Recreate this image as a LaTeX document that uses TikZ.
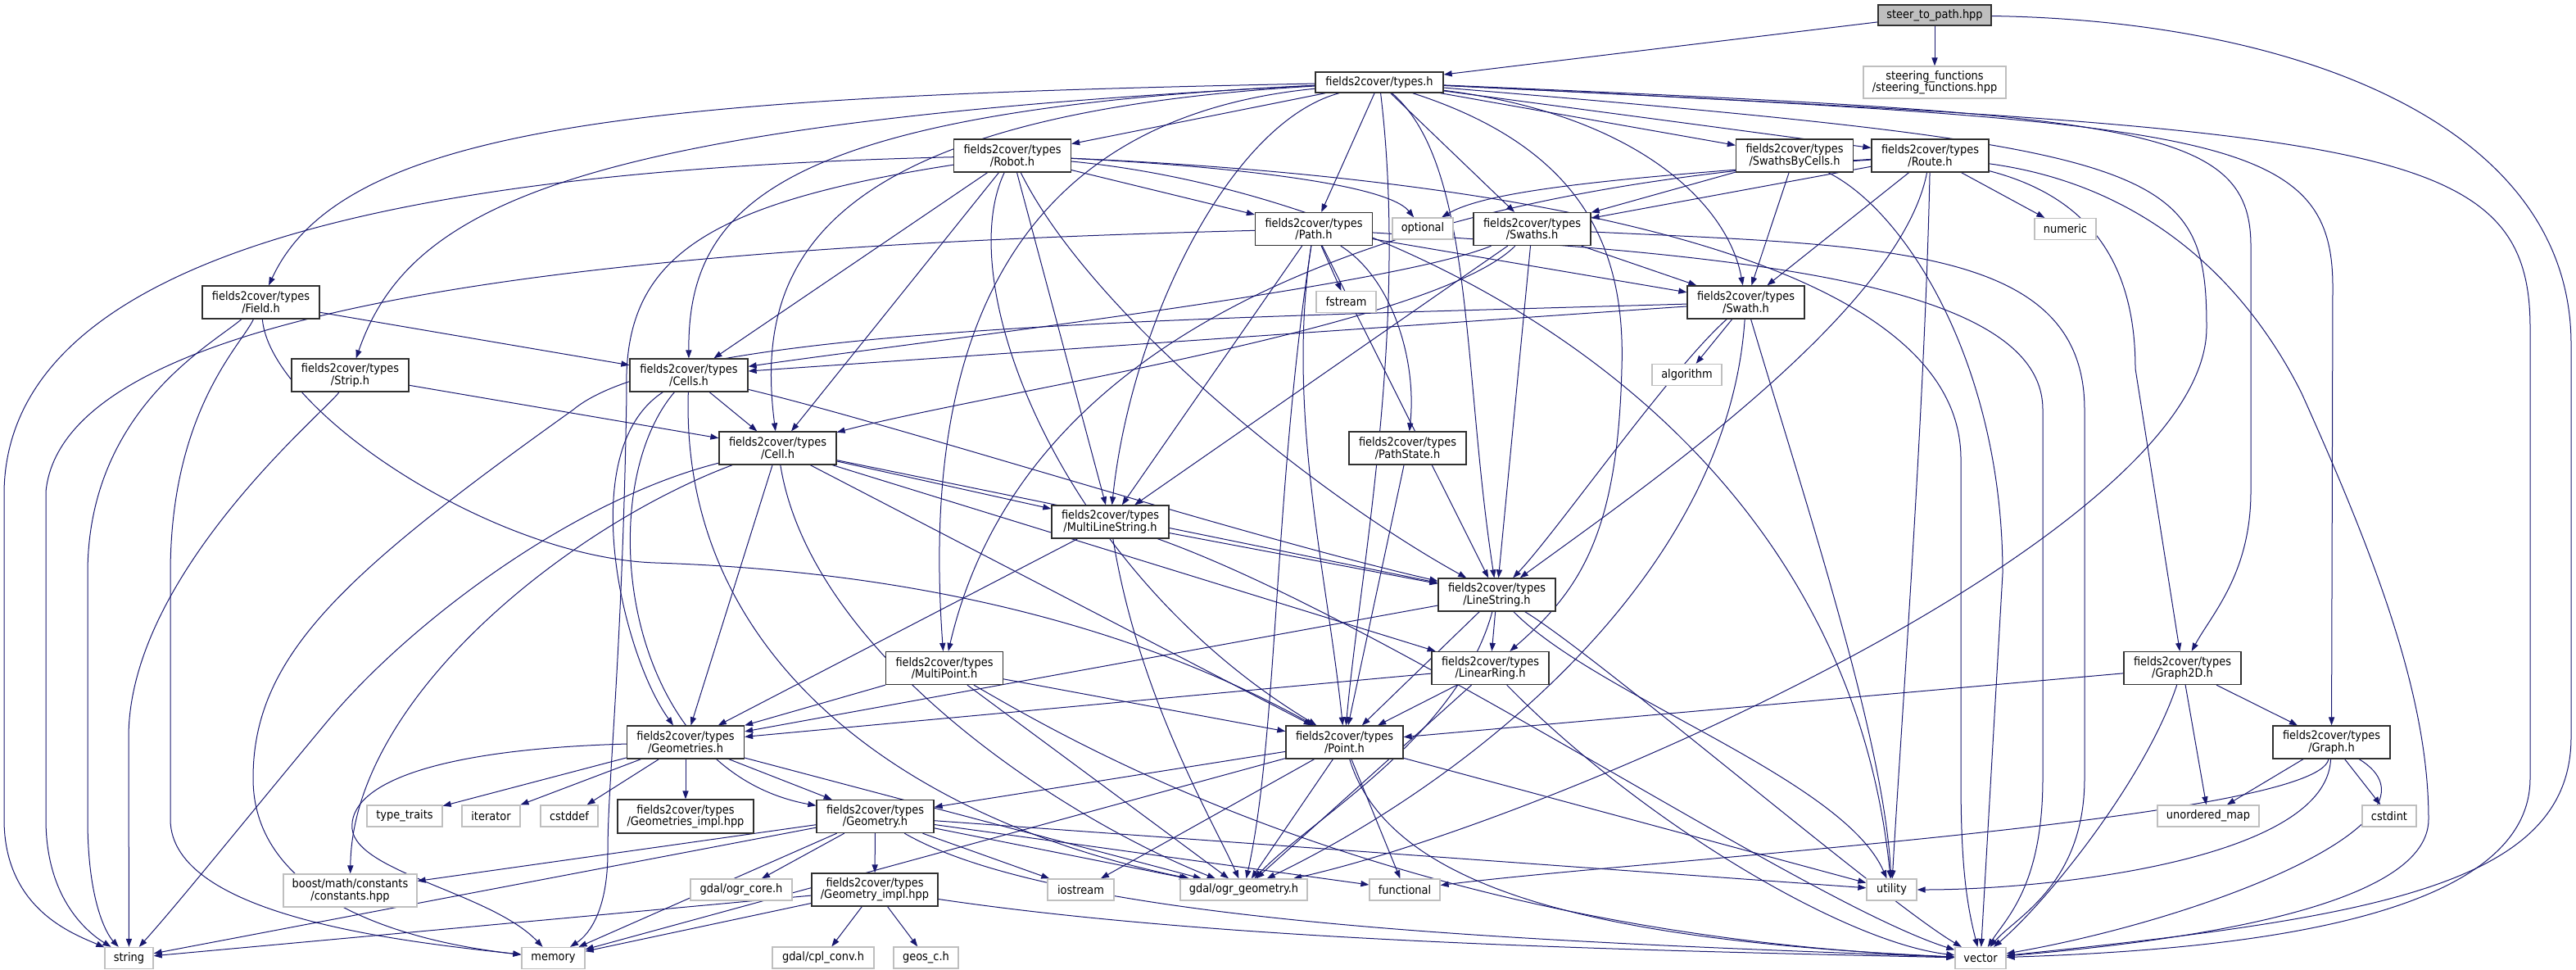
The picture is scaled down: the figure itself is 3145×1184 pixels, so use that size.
\documentclass[tikz,border=0pt]{standalone}
\usepackage{fontspec}
\setmainfont{DejaVu Sans Condensed}
\usetikzlibrary{arrows.meta,backgrounds}
\definecolor{eblue}{RGB}{25,25,112}
\definecolor{sysgray}{RGB}{191,191,191}
\definecolor{nodeborder}{RGB}{48,48,48}
\begin{document}
\begin{tikzpicture}[x=0.5pt,y=-0.5pt,
  nb/.style={draw=nodeborder,line width=0.65pt,fill=white,inner sep=0pt,align=center,minimum width=71.5pt,minimum height=20pt,font=\fontsize{7.2}{7.2}\selectfont},
  sb/.style={draw=sysgray,line width=0.65pt,fill=white,inner sep=0pt,align=center,minimum height=13pt,font=\fontsize{7.2}{7.2}\selectfont},
  dep/.style={draw=eblue,line width=0.5pt,-{Triangle[length=5pt,width=3.6pt]}},
]
\path[use as bounding box] (0,0) rectangle (3145,1184);
% nodes
\node[nb,fill=sysgray,minimum width=69pt,minimum height=12.5pt] (steer) at (2362,18.5) {steer\_to\_path.hpp};
\node[sb,minimum width=87pt,minimum height=19.5pt] (sfun) at (2362,100.5) {steering\_functions\\/steering\_functions.hpp};
\node[nb,minimum width=78pt,minimum height=12.5pt] (types) at (1684,100.5) {fields2cover/types.h};
\node[nb] (robot) at (1236,190) {fields2cover/types\\/Robot.h};
\node[nb] (sbc) at (2191,190) {fields2cover/types\\/SwathsByCells.h};
\node[nb] (route) at (2356.5,190) {fields2cover/types\\/Route.h};
\node[nb] (path) at (1604,279.5) {fields2cover/types\\/Path.h};
\node[sb,minimum width=37pt] (optional) at (1737,279) {optional};
\node[nb] (swaths) at (1870.5,279.5) {fields2cover/types\\/Swaths.h};
\node[sb,minimum width=37.5pt] (numeric) at (2521.5,279.5) {numeric};
\node[nb] (field) at (318.5,369) {fields2cover/types\\/Field.h};
\node[sb,minimum width=36.5pt] (fstream) at (1643.5,368.5) {fstream};
\node[nb] (swath) at (2131.5,369) {fields2cover/types\\/Swath.h};
\node[nb] (strip) at (427.5,458) {fields2cover/types\\/Strip.h};
\node[nb,minimum width=72pt] (cells) at (841,458) {fields2cover/types\\/Cells.h};
\node[sb,minimum width=42.5pt] (algorithm) at (2059.5,457.5) {algorithm};
\node[nb] (cell) at (949.5,547) {fields2cover/types\\/Cell.h};
\node[nb] (pstate) at (1718.5,547) {fields2cover/types\\/PathState.h};
\node[nb] (mls) at (1355.5,637) {fields2cover/types\\/MultiLineString.h};
\node[nb] (ls) at (1827.5,726) {fields2cover/types\\/LineString.h};
\node[nb] (mpoint) at (1153,815.5) {fields2cover/types\\/MultiPoint.h};
\node[nb] (lring) at (1819.5,815.5) {fields2cover/types\\/LinearRing.h};
\node[nb] (g2d) at (2664.5,815.5) {fields2cover/types\\/Graph2D.h};
\node[nb] (geoms) at (837,906) {fields2cover/types\\/Geometries.h};
\node[nb] (point) at (1641.5,906) {fields2cover/types\\/Point.h};
\node[nb] (graph) at (2846.5,906) {fields2cover/types\\/Graph.h};
\node[sb,minimum width=46pt] (ttraits) at (494,996) {type\_traits};
\node[sb,minimum width=35.5pt] (iter) at (599.5,996) {iterator};
\node[sb,minimum width=35pt] (cstddef) at (695,996) {cstddef};
\node[nb,minimum width=83pt,minimum height=20.5pt] (gimpl) at (837,996.5) {fields2cover/types\\/Geometries\_impl.hpp};
\node[nb] (geom) at (1068.5,996.5) {fields2cover/types\\/Geometry.h};
\node[sb,minimum width=62pt] (umap) at (2696,996) {unordered\_map};
\node[sb,minimum width=33pt] (cstdint) at (2917,996) {cstdint};
\node[sb,minimum width=81.5pt,minimum height=20pt] (boost) at (427.5,1087) {boost/math/constants\\/constants.hpp};
\node[sb,minimum width=62pt] (ogrcore) at (905,1086) {gdal/ogr\_core.h};
\node[nb,minimum width=77pt] (gimplh) at (1068,1086) {fields2cover/types\\/Geometry\_impl.hpp};
\node[sb,minimum width=40.5pt] (iostream) at (1319.5,1086) {iostream};
\node[sb,minimum width=77.5pt] (ogrgeom) at (1518.5,1086) {gdal/ogr\_geometry.h};
\node[sb,minimum width=43pt] (functional) at (1715,1086) {functional};
\node[sb,minimum width=30.5pt] (utility) at (2309.5,1086) {utility};
\node[sb,minimum width=29.5pt] (string) at (157.5,1169.5) {string};
\node[sb,minimum width=38.5pt] (memory) at (675.5,1169.5) {memory};
\node[sb,minimum width=62pt] (cplconv) at (1005,1169) {gdal/cpl\_conv.h};
\node[sb,minimum width=39.5pt] (geosc) at (1130.5,1169) {geos\_c.h};
\node[sb,minimum width=31pt] (vector) at (2418,1169.5) {vector};
% edges
\begin{pgfonlayer}{background}
% steer_to_path
\draw[dep] (steer) -- (types);
\draw[dep] (steer) -- (sfun);
\draw[dep] (steer) .. controls (2800,25) and (3139,150) .. (3139,420) -- (3139,900) .. controls (3139,1080) and (2900,1120) .. (vector);
% types.h
\draw[dep] (types) .. controls (800,118) and (420,150) .. (field);
\draw[dep] (types) .. controls (700,150) and (500,250) .. (strip);
\draw[dep] (types) .. controls (950,135) and (840,250) .. (cells);
\draw[dep] (types) .. controls (1000,140) and (920,320) .. (cell);
\draw[dep] (types) -- (robot);
\draw[dep] (types) -- (path);
\draw[dep] (types) -- (swaths);
\draw[dep] (types) .. controls (2000,140) and (2110,250) .. (swath);
\draw[dep] (types) -- (sbc);
\draw[dep] (types) -- (route);
\draw[dep] (types) .. controls (1500,150) and (1380,400) .. (mls);
\draw[dep] (types) .. controls (1800,200) and (1785,450) .. (ls);
\draw[dep] (types) .. controls (1180,150) and (1130,500) .. (mpoint);
\draw[dep] (types) .. controls (1930,180) and (1985,300) .. (1980,450) .. controls (1975,650) and (1930,720) .. (lring);
\draw[dep] (types) .. controls (1720,400) and (1660,700) .. (point);
\draw[dep] (types) .. controls (2600,140) and (2748,150) .. (2748,300) -- (2748,600) .. controls (2748,700) and (2700,750) .. (g2d);
\draw[dep] (types) .. controls (2700,150) and (2848,160) .. (2848,350) -- (graph);
\draw[dep] (types) .. controls (2900,160) and (3089,170) .. (3089,400) -- (3089,950) .. controls (3089,1130) and (2700,1160) .. (vector);
\draw[dep] (types) .. controls (2640,180) and (2694,200) .. (2694,400) .. controls (2694,650) and (1900,1000) .. (ogrgeom);
% Robot.h
\draw[dep] (robot) .. controls (600,205) and (10,280) .. (5,600) -- (5,1000) .. controls (5,1110) and (90,1140) .. (string);
\draw[dep] (robot) .. controls (850,250) and (760,320) .. (765,480) .. controls (760,800) and (742,950) .. (742,1040) .. controls (742,1110) and (720,1140) .. (memory);
\draw[dep] (robot) .. controls (1450,200) and (1690,220) .. (optional);
\draw[dep] (robot) -- (cells);
\draw[dep] (robot) -- (cell);
\draw[dep] (robot) -- (path);
\draw[dep] (robot) -- (mls);
\draw[dep] (robot) .. controls (1160,350) and (1300,700) .. (point);
\draw[dep] (robot) .. controls (1330,380) and (1600,600) .. (ls);
\draw[dep] (robot) .. controls (1800,215) and (2394,300) .. (2394,560) -- (2394,950) .. controls (2394,1050) and (2400,1100) .. (vector);
\draw[dep] (robot) .. controls (1700,235) and (2250,500) .. (utility);
% SwathsByCells.h
\draw[dep] (sbc) -- (swaths);
\draw[dep] (sbc) -- (swath);
\draw[dep] (sbc) .. controls (2330,260) and (2445,450) .. (2445,700) -- (vector);
% Route.h
\draw[dep] (route) .. controls (2000,215) and (1820,230) .. (optional);
\draw[dep] (route) -- (numeric);
\draw[dep] (route) -- (swaths);
\draw[dep] (route) -- (swath);
\draw[dep] (route) .. controls (2320,380) and (2000,600) .. (ls);
\draw[dep] (route) .. controls (1700,230) and (1250,400) .. (mpoint);
\draw[dep] (route) .. controls (2550,240) and (2607,320) .. (2607,450) -- (g2d);
\draw[dep] (route) .. controls (2650,230) and (2760,380) .. (2810,480) .. controls (2900,680) and (2965,850) .. (2965,1000) .. controls (2965,1110) and (2650,1150) .. (vector);
\draw[dep] (route) .. controls (2350,500) and (2320,900) .. (utility);
% Path.h
\draw[dep] (path) .. controls (800,300) and (80,360) .. (56,600) -- (56,1000) .. controls (56,1100) and (110,1140) .. (string);
\draw[dep] (path) -- (fstream);
\draw[dep] (path) -- (swath);
\draw[dep] (path) .. controls (1700,340) and (1730,440) .. (pstate);
\draw[dep] (path) .. controls (1570,500) and (1620,700) .. (point);
\draw[dep] (path) -- (ls);
\draw[dep] (path) -- (mls);
\draw[dep] (path) .. controls (1555,600) and (1560,900) .. (ogrgeom);
\draw[dep] (path) .. controls (2100,310) and (2494,340) .. (2494,500) -- (2494,950) .. controls (2494,1080) and (2450,1120) .. (vector);
% Swaths.h
\draw[dep] (swaths) -- (swath);
\draw[dep] (swaths) .. controls (1700,350) and (1100,420) .. (cells);
\draw[dep] (swaths) .. controls (1750,400) and (1200,480) .. (cell);
\draw[dep] (swaths) -- (ls);
\draw[dep] (swaths) -- (mls);
\draw[dep] (swaths) .. controls (2300,300) and (2545,300) .. (2545,500) -- (2545,950) .. controls (2545,1080) and (2460,1120) .. (vector);
% Swath.h
\draw[dep] (swath) -- (cells);
\draw[dep] (swath) .. controls (1400,390) and (820,400) .. (700,500) .. controls (420,700) and (309,800) .. (309,950) .. controls (309,1100) and (500,1150) .. (memory);
\draw[dep] (swath) -- (algorithm);
\draw[dep] (swath) .. controls (2040,450) and (1900,650) .. (ls);
\draw[dep] (swath) .. controls (2110,700) and (1800,950) .. (ogrgeom);
\draw[dep] (swath) .. controls (2200,600) and (2300,900) .. (utility);
% Field.h
\draw[dep] (field) -- (cells);
\draw[dep] (field) .. controls (260,420) and (107,500) .. (107,700) -- (107,1000) .. controls (107,1100) and (130,1140) .. (string);
\draw[dep] (field) .. controls (296,420) and (208,500) .. (208,700) -- (208,1000) .. controls (208,1120) and (500,1150) .. (memory);
\draw[dep] (field) .. controls (330,500) and (600,680) .. (800,687) .. controls (1200,700) and (1450,800) .. (point);
% Strip.h
\draw[dep] (strip) -- (cell);
\draw[dep] (strip) .. controls (400,500) and (157,700) .. (157,900) -- (string);
% Cells.h
\draw[dep] (cells) -- (cell);
\draw[dep] (cells) .. controls (1100,520) and (1500,650) .. (ls);
\draw[dep] (cells) .. controls (700,550) and (760,800) .. (geoms);
\draw[dep] (cells) .. controls (720,600) and (760,940) .. (geom);
\draw[dep] (cells) .. controls (830,800) and (1100,1000) .. (ogrgeom);
% Cell.h
\draw[dep] (cell) .. controls (700,610) and (500,760) .. (400,880) .. controls (300,1000) and (220,1100) .. (string);
\draw[dep] (cell) .. controls (700,640) and (430,850) .. (boost);
\draw[dep] (cell) -- (geoms);
\draw[dep] (cell) -- (mls);
\draw[dep] (cell) -- (ls);
\draw[dep] (cell) -- (lring);
\draw[dep] (cell) -- (point);
\draw[dep] (cell) .. controls (990,800) and (1300,1000) .. (ogrgeom);
% PathState.h
\draw[dep] (pstate) -- (point);
% MultiLineString.h
\draw[dep] (mls) -- (geoms);
\draw[dep] (mls) -- (ls);
\draw[dep] (mls) .. controls (1390,850) and (1480,1000) .. (ogrgeom);
\draw[dep] (mls) .. controls (1700,760) and (2200,1100) .. (vector);
% LineString.h
\draw[dep] (ls) -- (geoms);
\draw[dep] (ls) -- (point);
\draw[dep] (ls) -- (lring);
\draw[dep] (ls) .. controls (1780,900) and (1600,1000) .. (ogrgeom);
\draw[dep] (ls) .. controls (1950,850) and (2250,950) .. (utility);
\draw[dep] (ls) .. controls (1950,800) and (2300,1100) .. (vector);
% MultiPoint.h
\draw[dep] (mpoint) -- (geoms);
\draw[dep] (mpoint) -- (point);
\draw[dep] (mpoint) -- (ogrgeom);
\draw[dep] (mpoint) .. controls (1300,900) and (1700,1140) .. (vector);
% LinearRing.h
\draw[dep] (lring) -- (geoms);
\draw[dep] (lring) -- (point);
\draw[dep] (lring) -- (ogrgeom);
\draw[dep] (lring) .. controls (2000,1000) and (2250,1150) .. (vector);
% Graph2D.h
\draw[dep] (g2d) -- (point);
\draw[dep] (g2d) -- (umap);
\draw[dep] (g2d) -- (graph);
\draw[dep] (g2d) .. controls (2620,950) and (2500,1100) .. (vector);
% Graph.h
\draw[dep] (graph) -- (umap);
\draw[dep] (graph) -- (cstdint);
\draw[dep] (graph) .. controls (2830,1000) and (2000,1050) .. (functional);
\draw[dep] (graph) .. controls (2840,1050) and (2500,1086) .. (utility);
\draw[dep] (graph) .. controls (3000,1000) and (2700,1120) .. (vector);
% Geometries.h
\draw[dep] (geoms) -- (ttraits);
\draw[dep] (geoms) -- (iter);
\draw[dep] (geoms) -- (cstddef);
\draw[dep] (geoms) -- (gimpl);
\draw[dep] (geoms) -- (geom);
\draw[dep] (geoms) .. controls (520,915) and (425,960) .. (430,1012) .. controls (436,1065) and (600,1090) .. (memory);
\draw[dep] (geoms) -- (ogrgeom);
% Point.h
\draw[dep] (point) -- (geom);
\draw[dep] (point) -- (iostream);
\draw[dep] (point) -- (functional);
\draw[dep] (point) -- (utility);
\draw[dep] (point) -- (ogrgeom);
\draw[dep] (point) -- (memory);
\draw[dep] (point) .. controls (1700,1100) and (2000,1150) .. (vector);
% Geometry.h
\draw[dep] (geom) -- (gimplh);
\draw[dep] (geom) -- (ogrcore);
\draw[dep] (geom) -- (iostream);
\draw[dep] (geom) -- (ogrgeom);
\draw[dep] (geom) -- (boost);
\draw[dep] (geom) -- (string);
\draw[dep] (geom) -- (memory);
\draw[dep] (geom) -- (functional);
\draw[dep] (geom) -- (utility);
\draw[dep] (geom) .. controls (1300,1130) and (1900,1150) .. (vector);
% Geometry_impl.hpp
\draw[dep] (gimplh) -- (string);
\draw[dep] (gimplh) -- (memory);
\draw[dep] (gimplh) -- (cplconv);
\draw[dep] (gimplh) -- (geosc);
\draw[dep] (gimplh) .. controls (1500,1150) and (2000,1160) .. (vector);
\end{pgfonlayer}
\end{tikzpicture}
\end{document}
